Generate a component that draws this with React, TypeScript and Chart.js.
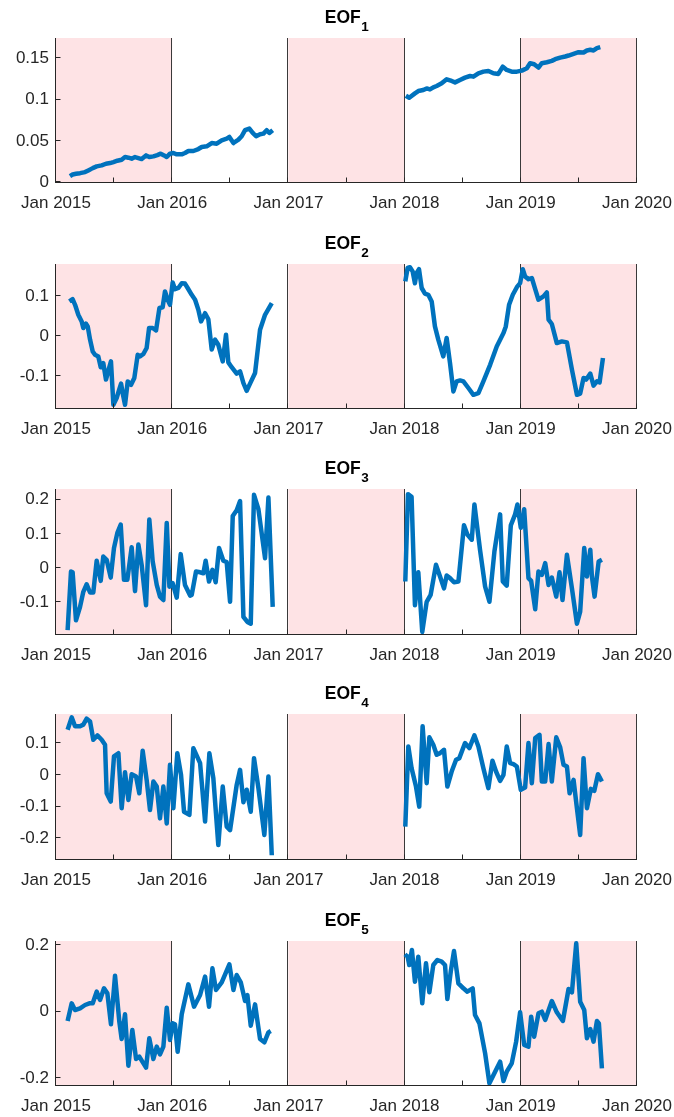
import React, { useEffect, useRef } from "react";
import { Chart, registerables } from "chart.js";

Chart.register(...registerables);

// ---------- data ----------
const shadedYears = [2015, 2017, 2019];
const dividerYears = [2015, 2016, 2017, 2018, 2019, 2020];
const xTickYears = [2015, 2016, 2017, 2018, 2019, 2020];
const xMinorTickYears = [2015.5, 2016.5, 2017.5, 2018.5, 2019.5];
const eofLabels = ["1", "2", "3", "4", "5"];

const eof1DatesA = [2015.120, 2015.143, 2015.172, 2015.207, 2015.250, 2015.278, 2015.316, 2015.350, 2015.393, 2015.430, 2015.465, 2015.494, 2015.528, 2015.565, 2015.594, 2015.623, 2015.651, 2015.680, 2015.709, 2015.737, 2015.775, 2015.803, 2015.838, 2015.872, 2015.901, 2015.930, 2015.953, 2015.981, 2016.010, 2016.039, 2016.082, 2016.110, 2016.139, 2016.182, 2016.225, 2016.254, 2016.297, 2016.340, 2016.383, 2016.426, 2016.469, 2016.492, 2016.527, 2016.570, 2016.598, 2016.627, 2016.664, 2016.693, 2016.722, 2016.756, 2016.785, 2016.813, 2016.836, 2016.865];
const eof1ValuesA = [0.0073, 0.0093, 0.0101, 0.0109, 0.0122, 0.0142, 0.0170, 0.0191, 0.0203, 0.0223, 0.0231, 0.0243, 0.0260, 0.0272, 0.0304, 0.0296, 0.0284, 0.0304, 0.0292, 0.0280, 0.0324, 0.0304, 0.0312, 0.0328, 0.0345, 0.0324, 0.0304, 0.0345, 0.0353, 0.0337, 0.0337, 0.0353, 0.0377, 0.0377, 0.0401, 0.0426, 0.0434, 0.0474, 0.0466, 0.0507, 0.0527, 0.0547, 0.0474, 0.0515, 0.0556, 0.0629, 0.0649, 0.0596, 0.0556, 0.0580, 0.0588, 0.0629, 0.0596, 0.0629];
const eof1DatesB = [2018.011, 2018.040, 2018.089, 2018.118, 2018.161, 2018.190, 2018.218, 2018.247, 2018.276, 2018.319, 2018.362, 2018.405, 2018.434, 2018.477, 2018.520, 2018.563, 2018.592, 2018.635, 2018.678, 2018.721, 2018.764, 2018.807, 2018.845, 2018.879, 2018.922, 2018.966, 2019.009, 2019.052, 2019.080, 2019.115, 2019.152, 2019.181, 2019.224, 2019.267, 2019.296, 2019.339, 2019.382, 2019.411, 2019.454, 2019.497, 2019.540, 2019.569, 2019.598, 2019.626, 2019.655, 2019.684];
const eof1ValuesB = [0.1046, 0.1022, 0.1075, 0.1103, 0.1115, 0.1135, 0.1123, 0.1148, 0.1164, 0.1196, 0.1245, 0.1225, 0.1208, 0.1237, 0.1265, 0.1285, 0.1277, 0.1318, 0.1338, 0.1346, 0.1318, 0.1310, 0.1399, 0.1358, 0.1338, 0.1338, 0.1350, 0.1379, 0.1440, 0.1427, 0.1387, 0.1440, 0.1452, 0.1468, 0.1488, 0.1508, 0.1521, 0.1533, 0.1553, 0.1573, 0.1569, 0.1594, 0.1602, 0.1594, 0.1622, 0.1634];

const eof2DatesA = [2015.115, 2015.143, 2015.164, 2015.192, 2015.221, 2015.235, 2015.258, 2015.273, 2015.293, 2015.316, 2015.336, 2015.364, 2015.385, 2015.407, 2015.430, 2015.453, 2015.473, 2015.494, 2015.522, 2015.545, 2015.560, 2015.574, 2015.594, 2015.617, 2015.646, 2015.674, 2015.703, 2015.723, 2015.752, 2015.780, 2015.801, 2015.832, 2015.861, 2015.890, 2015.918, 2015.938, 2015.961, 2015.981, 2016.004, 2016.024, 2016.053, 2016.082, 2016.110, 2016.133, 2016.168, 2016.197, 2016.225, 2016.248, 2016.283, 2016.311, 2016.340, 2016.369, 2016.397, 2016.435, 2016.463, 2016.483, 2016.512, 2016.555, 2016.584, 2016.613, 2016.641, 2016.670, 2016.713, 2016.756, 2016.799, 2016.857];
const eof2ValuesA = [0.0875, 0.093, 0.079, 0.054, 0.0375, 0.021, 0.032, 0.025, -0.008, -0.0375, -0.046, -0.05, -0.077, -0.067, -0.108, -0.083, -0.0625, -0.171, -0.154, -0.132, -0.118, -0.142, -0.171, -0.1125, -0.121, -0.104, -0.046, -0.05, -0.044, -0.029, 0.021, 0.021, 0.015, 0.071, 0.073, 0.1125, 0.0917, 0.079, 0.135, 0.118, 0.121, 0.133, 0.132, 0.121, 0.104, 0.0917, 0.0667, 0.0375, 0.058, 0.043, -0.033, -0.008, -0.021, -0.0625, 0.004, -0.065, -0.077, -0.093, -0.0875, -0.117, -0.136, -0.118, -0.0917, 0.0167, 0.054, 0.083];
const eof2DatesB = [2018.006, 2018.026, 2018.046, 2018.069, 2018.089, 2018.103, 2018.124, 2018.147, 2018.175, 2018.204, 2018.233, 2018.261, 2018.290, 2018.333, 2018.362, 2018.391, 2018.420, 2018.448, 2018.477, 2018.506, 2018.549, 2018.592, 2018.635, 2018.678, 2018.736, 2018.793, 2018.851, 2018.871, 2018.899, 2018.931, 2018.966, 2018.994, 2019.017, 2019.037, 2019.066, 2019.095, 2019.124, 2019.152, 2019.195, 2019.224, 2019.239, 2019.267, 2019.310, 2019.353, 2019.397, 2019.440, 2019.483, 2019.511, 2019.540, 2019.563, 2019.598, 2019.626, 2019.655, 2019.678, 2019.707];
const eof2ValuesB = [0.1375, 0.171, 0.173, 0.1625, 0.133, 0.158, 0.168, 0.121, 0.107, 0.104, 0.0875, 0.025, -0.008, -0.05, -0.004, -0.067, -0.1375, -0.1125, -0.11, -0.1125, -0.129, -0.146, -0.142, -0.1125, -0.071, -0.025, 0.0083, 0.025, 0.079, 0.104, 0.123, 0.133, 0.168, 0.15, 0.143, 0.146, 0.118, 0.0917, 0.1, 0.11, 0.0417, 0.031, -0.0167, -0.0125, -0.015, -0.083, -0.146, -0.143, -0.104, -0.108, -0.093, -0.123, -0.1125, -0.115, -0.054];

const eof3DatesA = [2015.100, 2015.129, 2015.143, 2015.172, 2015.207, 2015.235, 2015.264, 2015.293, 2015.321, 2015.350, 2015.385, 2015.407, 2015.436, 2015.471, 2015.499, 2015.528, 2015.557, 2015.585, 2015.614, 2015.651, 2015.680, 2015.709, 2015.737, 2015.775, 2015.803, 2015.832, 2015.867, 2015.895, 2015.924, 2015.953, 2015.976, 2016.004, 2016.039, 2016.073, 2016.110, 2016.154, 2016.168, 2016.205, 2016.240, 2016.268, 2016.288, 2016.317, 2016.346, 2016.374, 2016.403, 2016.440, 2016.469, 2016.498, 2016.521, 2016.555, 2016.584, 2016.613, 2016.647, 2016.676, 2016.704, 2016.742, 2016.799, 2016.828, 2016.865];
const eof3ValuesA = [-0.181, -0.0098, -0.012, -0.152, -0.113, -0.069, -0.047, -0.071, -0.071, 0.0216, -0.037, 0.034, 0.0245, -0.0275, 0.059, 0.103, 0.127, -0.034, -0.034, 0.061, -0.067, 0.069, 0.0098, -0.108, 0.142, 0.0196, -0.049, -0.083, -0.093, 0.132, -0.054, -0.044, -0.086, 0.041, -0.049, -0.080, -0.078, -0.0098, -0.012, -0.015, 0.0216, -0.039, -0.0049, -0.041, 0.059, 0.0216, 0.0176, -0.098, 0.152, 0.169, 0.196, -0.142, -0.157, -0.162, 0.214, 0.172, 0.029, 0.206, -0.113];
const eof3DatesB = [2018.006, 2018.029, 2018.060, 2018.089, 2018.118, 2018.152, 2018.190, 2018.224, 2018.270, 2018.305, 2018.339, 2018.362, 2018.391, 2018.425, 2018.463, 2018.511, 2018.540, 2018.578, 2018.601, 2018.649, 2018.693, 2018.730, 2018.773, 2018.822, 2018.845, 2018.879, 2018.914, 2018.951, 2018.971, 2019.000, 2019.029, 2019.066, 2019.089, 2019.124, 2019.152, 2019.181, 2019.210, 2019.239, 2019.267, 2019.305, 2019.333, 2019.359, 2019.397, 2019.440, 2019.483, 2019.511, 2019.546, 2019.569, 2019.598, 2019.612, 2019.635, 2019.670, 2019.698];
const eof3ValuesB = [-0.039, 0.216, 0.208, -0.108, -0.012, -0.186, -0.098, -0.078, 0.0098, -0.0245, -0.059, -0.0216, -0.029, -0.041, -0.039, 0.125, 0.098, 0.083, 0.186, 0.054, -0.054, -0.098, 0.049, 0.157, -0.039, -0.051, 0.125, 0.157, 0.186, 0.118, 0.172, -0.029, -0.037, -0.120, -0.0098, -0.0196, 0.0147, -0.049, -0.0275, -0.083, -0.012, -0.093, 0.039, -0.059, -0.162, -0.127, 0.059, -0.0245, 0.054, -0.0245, -0.083, 0.0196, 0.0245];

const eof4DatesA = [2015.100, 2015.135, 2015.164, 2015.207, 2015.235, 2015.264, 2015.293, 2015.321, 2015.356, 2015.393, 2015.422, 2015.436, 2015.471, 2015.499, 2015.537, 2015.565, 2015.594, 2015.623, 2015.651, 2015.689, 2015.717, 2015.746, 2015.780, 2015.809, 2015.838, 2015.867, 2015.895, 2015.924, 2015.953, 2015.981, 2016.010, 2016.044, 2016.076, 2016.102, 2016.148, 2016.182, 2016.240, 2016.283, 2016.320, 2016.354, 2016.397, 2016.435, 2016.469, 2016.498, 2016.555, 2016.584, 2016.613, 2016.641, 2016.676, 2016.704, 2016.742, 2016.793, 2016.828, 2016.857];
const eof4ValuesA = [0.142, 0.181, 0.153, 0.153, 0.158, 0.177, 0.168, 0.1105, 0.124, 0.1105, 0.0947, -0.058, -0.084, 0.058, 0.068, -0.105, 0.0084, -0.079, 0.0021, -0.0053, -0.058, 0.0758, -0.0158, -0.1105, -0.021, -0.037, -0.137, -0.037, -0.153, 0.0316, -0.105, 0.068, 0.0, -0.116, -0.126, 0.084, 0.037, -0.147, 0.068, -0.0105, -0.221, -0.037, -0.163, -0.174, -0.0316, 0.0158, -0.086, -0.047, -0.116, 0.0526, -0.042, -0.189, -0.0053, -0.253];
const eof4DatesB = [2018.006, 2018.032, 2018.060, 2018.098, 2018.126, 2018.155, 2018.190, 2018.213, 2018.247, 2018.276, 2018.305, 2018.339, 2018.368, 2018.405, 2018.443, 2018.471, 2018.520, 2018.557, 2018.601, 2018.635, 2018.678, 2018.721, 2018.756, 2018.787, 2018.822, 2018.851, 2018.879, 2018.908, 2018.937, 2018.966, 2019.000, 2019.037, 2019.066, 2019.095, 2019.124, 2019.161, 2019.181, 2019.210, 2019.239, 2019.267, 2019.305, 2019.339, 2019.368, 2019.397, 2019.420, 2019.454, 2019.483, 2019.511, 2019.540, 2019.569, 2019.603, 2019.632, 2019.664, 2019.698];
const eof4ValuesB = [-0.163, 0.0895, 0.0211, -0.0368, -0.100, 0.153, -0.0263, 0.118, 0.0947, 0.0632, 0.0684, 0.0789, -0.0368, 0.0105, 0.0474, 0.0526, 0.1, 0.0842, 0.124, 0.0895, 0.0211, -0.042, 0.0442, 0.0105, -0.0189, 0.0, 0.0895, 0.0368, 0.0337, 0.0263, -0.047, -0.04, 0.1, -0.0263, 0.1158, 0.126, -0.021, -0.021, 0.0968, -0.021, 0.118, 0.0863, 0.0316, 0.0263, -0.058, -0.0158, -0.105, -0.189, 0.0526, -0.105, -0.0442, -0.0505, 0.0021, -0.021];

const eof5DatesA = [2015.100, 2015.135, 2015.164, 2015.207, 2015.250, 2015.287, 2015.316, 2015.350, 2015.379, 2015.413, 2015.442, 2015.473, 2015.508, 2015.545, 2015.565, 2015.594, 2015.623, 2015.657, 2015.689, 2015.717, 2015.775, 2015.803, 2015.838, 2015.867, 2015.895, 2015.924, 2015.953, 2015.981, 2016.004, 2016.024, 2016.047, 2016.082, 2016.139, 2016.188, 2016.240, 2016.283, 2016.317, 2016.346, 2016.377, 2016.426, 2016.492, 2016.527, 2016.555, 2016.590, 2016.627, 2016.647, 2016.676, 2016.713, 2016.756, 2016.793, 2016.828, 2016.848];
const eof5ValuesA = [-0.028, 0.025, 0.005, 0.010, 0.020, 0.025, 0.025, 0.060, 0.035, 0.070, 0.055, -0.038, 0.108, -0.030, -0.082, -0.008, -0.162, -0.055, -0.142, -0.135, -0.168, -0.080, -0.142, -0.105, -0.128, -0.105, 0.012, -0.085, -0.035, -0.038, -0.120, -0.008, 0.082, 0.015, 0.050, 0.105, 0.015, 0.130, 0.065, 0.088, 0.142, 0.065, 0.110, 0.088, 0.032, 0.050, -0.042, 0.022, -0.082, -0.092, -0.062, -0.058];
const eof5DatesB = [2018.003, 2018.026, 2018.040, 2018.063, 2018.089, 2018.118, 2018.152, 2018.184, 2018.213, 2018.247, 2018.282, 2018.319, 2018.348, 2018.368, 2018.397, 2018.425, 2018.463, 2018.506, 2018.540, 2018.586, 2018.606, 2018.644, 2018.693, 2018.730, 2018.779, 2018.822, 2018.851, 2018.879, 2018.922, 2018.960, 2018.994, 2019.029, 2019.066, 2019.089, 2019.115, 2019.152, 2019.181, 2019.210, 2019.267, 2019.310, 2019.362, 2019.411, 2019.440, 2019.477, 2019.511, 2019.546, 2019.569, 2019.598, 2019.626, 2019.655, 2019.672, 2019.698];
const eof5ValuesB = [0.172, 0.165, 0.140, 0.185, 0.090, 0.165, 0.025, 0.145, 0.058, 0.140, 0.155, 0.150, 0.140, 0.038, 0.120, 0.182, 0.085, 0.070, 0.060, 0.070, -0.010, -0.035, -0.125, -0.215, -0.180, -0.150, -0.208, -0.180, -0.155, -0.090, -0.002, -0.100, -0.105, -0.015, -0.075, -0.005, 0.000, -0.025, 0.032, -0.002, -0.028, 0.068, 0.058, 0.205, 0.030, 0.005, -0.080, -0.052, -0.090, -0.028, -0.035, -0.170];

const eof1YTicks = [0, 0.05, 0.1, 0.15];
const eof2YTicks = [-0.1, 0, 0.1];
const eof3YTicks = [-0.1, 0, 0.1, 0.2];
const eof4YTicks = [-0.2, -0.1, 0, 0.1];
const eof5YTicks = [-0.2, 0, 0.2];

const eof1YRange = [-0.001, 0.1745];
const eof2YRange = [-0.1815, 0.181];
const eof3YRange = [-0.195, 0.231];
const eof4YRange = [-0.268, 0.1915];
const eof5YRange = [-0.223, 0.212];

// ---------- layout & style ----------
const FONT = "'Liberation Sans', Arial, Helvetica, sans-serif";
const TEXT = "#262626";
const LINE = "#0072BD";
const PINK = "#FEE3E5";
const DIVIDER = "#3a3a3a";
const PLOT_LEFT = 56;
const PLOT_RIGHT = 637;
const TOP_SPACE = 40;
const BOTTOM_SPACE = 30;
const plotTops = [38, 264, 489, 714, 941];
const plotHeights = [145, 145, 146, 146, 145];

const panels = [
  { datesA: eof1DatesA, valuesA: eof1ValuesA, datesB: eof1DatesB, valuesB: eof1ValuesB, ticks: eof1YTicks, range: eof1YRange },
  { datesA: eof2DatesA, valuesA: eof2ValuesA, datesB: eof2DatesB, valuesB: eof2ValuesB, ticks: eof2YTicks, range: eof2YRange },
  { datesA: eof3DatesA, valuesA: eof3ValuesA, datesB: eof3DatesB, valuesB: eof3ValuesB, ticks: eof3YTicks, range: eof3YRange },
  { datesA: eof4DatesA, valuesA: eof4ValuesA, datesB: eof4DatesB, valuesB: eof4ValuesB, ticks: eof4YTicks, range: eof4YRange },
  { datesA: eof5DatesA, valuesA: eof5ValuesA, datesB: eof5DatesB, valuesB: eof5ValuesB, ticks: eof5YTicks, range: eof5YRange },
];

function segment(dates: number[], values: number[]) {
  return {
    data: dates.map((d, i) => ({ x: d, y: values[i] })),
    borderColor: LINE,
    borderWidth: 4.5,
    pointRadius: 0,
    pointHoverRadius: 0,
    tension: 0,
    fill: false,
    borderJoinStyle: "round" as const,
    borderCapStyle: "butt" as const,
  };
}

const decor = {
  id: "decor",
  beforeDatasetsDraw(chart: any) {
    const { ctx, chartArea: a, scales } = chart;
    const x = scales.x;
    ctx.save();
    ctx.fillStyle = PINK;
    shadedYears.forEach((yr) => {
      const x0 = x.getPixelForValue(yr);
      const x1 = x.getPixelForValue(yr + 1);
      ctx.fillRect(x0, a.top, x1 - x0, a.bottom - a.top);
    });
    ctx.strokeStyle = DIVIDER;
    ctx.lineWidth = 1;
    dividerYears.forEach((yr) => {
      const px = Math.round(x.getPixelForValue(yr)) - 0.5;
      ctx.beginPath();
      ctx.moveTo(px, a.top);
      ctx.lineTo(px, a.bottom);
      ctx.stroke();
    });
    ctx.restore();
  },
  afterDatasetsDraw(chart: any, _args: any, opts: any) {
    const { ctx, chartArea: a, scales } = chart;
    const x = scales.x;
    const y = scales.y;
    ctx.save();
    ctx.strokeStyle = TEXT;
    ctx.lineWidth = 1;
    const left = Math.round(a.left) - 0.5;
    const bottom = Math.round(a.bottom) - 0.5;
    ctx.beginPath();
    ctx.moveTo(left, a.top);
    ctx.lineTo(left, bottom);
    ctx.lineTo(a.right, bottom);
    ctx.stroke();
    // inward ticks
    ctx.beginPath();
    (y.ticks as any[]).forEach((t) => {
      const py = Math.round(y.getPixelForValue(t.value)) - 0.5;
      ctx.moveTo(left, py);
      ctx.lineTo(left + 5, py);
    });
    [...xTickYears, ...xMinorTickYears].forEach((v) => {
      const px = Math.round(x.getPixelForValue(v)) - 0.5;
      ctx.moveTo(px, bottom);
      ctx.lineTo(px, bottom - 5);
    });
    ctx.stroke();
    // title with subscript
    const main = "EOF";
    const sub = opts.label as string;
    ctx.fillStyle = "#000";
    ctx.textBaseline = "alphabetic";
    ctx.font = `bold 17.5px ${FONT}`;
    const wMain = ctx.measureText(main).width;
    ctx.font = `bold 13.5px ${FONT}`;
    const wSub = ctx.measureText(sub).width;
    const cx = (a.left + a.right) / 2;
    const startX = cx - (wMain + wSub) / 2;
    const base = a.top - 15;
    ctx.font = `bold 17.5px ${FONT}`;
    ctx.textAlign = "left";
    ctx.fillText(main, startX, base);
    ctx.font = `bold 13.5px ${FONT}`;
    ctx.fillText(sub, startX + wMain + 0.5, base + 8.3);
    ctx.restore();
  },
};

function fmt(v: number) {
  return String(Number(v.toFixed(4)));
}

function Panel({ idx }: { idx: number }) {
  const ref = useRef<HTMLCanvasElement>(null);
  useEffect(() => {
    const cfg = panels[idx];
    const chart = new Chart(ref.current as HTMLCanvasElement, {
      type: "line",
      data: {
        datasets: [segment(cfg.datesA, cfg.valuesA), segment(cfg.datesB, cfg.valuesB)] as any,
      },
      options: {
        animation: false,
        responsive: false,
        devicePixelRatio: 1,
        events: [],
        layout: { padding: { top: TOP_SPACE, left: 0, right: 674 - PLOT_RIGHT, bottom: 0 } },
        plugins: {
          legend: { display: false },
          tooltip: { enabled: false },
          title: { display: false },
          decor: { label: eofLabels[idx] },
        } as any,
        scales: {
          x: {
            type: "linear",
            min: 2015,
            max: 2020,
            grid: { display: false, drawTicks: false },
            border: { display: false },
            ticks: {
              autoSkip: false,
              maxRotation: 0,
              minRotation: 0,
              padding: 10.5,
              color: TEXT,
              font: { family: FONT, size: 17 },
              callback: (v: any) => "Jan " + Math.round(Number(v)),
            },
            afterBuildTicks: (s: any) => {
              s.ticks = xTickYears.map((v) => ({ value: v }));
            },
            afterFit: (s: any) => {
              s.height = BOTTOM_SPACE;
              s.paddingLeft = 0;
              s.paddingRight = 0;
            },
          },
          y: {
            type: "linear",
            min: cfg.range[0],
            max: cfg.range[1],
            grid: { display: false, drawTicks: false },
            border: { display: false },
            ticks: {
              padding: 7,
              color: TEXT,
              font: { family: FONT, size: 17 },
              callback: (v: any) => fmt(Number(v)),
            },
            afterBuildTicks: (s: any) => {
              s.ticks = cfg.ticks.map((v) => ({ value: v }));
            },
            afterFit: (s: any) => {
              s.width = PLOT_LEFT;
              s.paddingTop = 0;
              s.paddingBottom = 0;
            },
          },
        } as any,
      },
      plugins: [decor as any],
    });
    return () => chart.destroy();
  }, [idx]);

  const h = TOP_SPACE + plotHeights[idx] + BOTTOM_SPACE;
  return (
    <canvas
      ref={ref}
      width={674}
      height={h}
      style={{ position: "absolute", left: 0, top: plotTops[idx] - TOP_SPACE, width: 674, height: h, display: "block" }}
    />
  );
}

export default function App() {
  return (
    <div style={{ position: "absolute", left: 0, top: 0, width: 674, height: 1117, background: "#fff", overflow: "hidden" }}>
      {panels.map((_, i) => (
        <Panel key={i} idx={i} />
      ))}
    </div>
  );
}
